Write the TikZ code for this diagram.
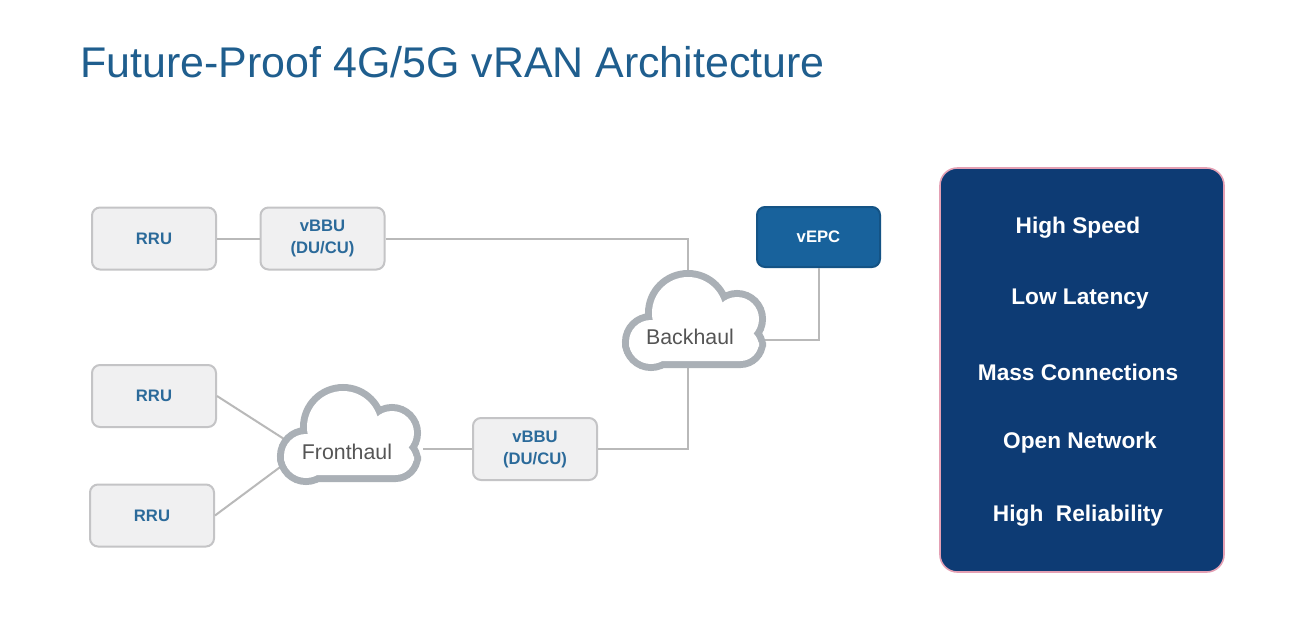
\documentclass[tikz,border=0pt]{standalone}
\usepackage{fontspec}
\setmainfont{Liberation Sans}
\usetikzlibrary{calc}
\definecolor{titleblue}{HTML}{1F5E8E}
\definecolor{labelblue}{HTML}{2B6A9A}
\definecolor{boxfill}{HTML}{F0F0F1}
\definecolor{boxline}{HTML}{C4C4C6}
\definecolor{linegray}{HTML}{B9B9B9}
\definecolor{epcblue}{HTML}{18629C}
\definecolor{navy}{HTML}{0D3B74}
\definecolor{pinkline}{HTML}{E4A0B4}
\definecolor{cloudgray}{HTML}{AAB0B6}
\definecolor{cloudtext}{HTML}{555555}
\tikzset{
  unitbox/.style={draw=boxline, line width=1.5pt, fill=boxfill, rounded corners=6pt,
    minimum width=93pt, minimum height=46.5pt, inner sep=0pt, align=center,
    font=\bfseries\fontsize{12.5}{16.5}\selectfont, text=labelblue},
  epcbox/.style={unitbox, draw=epcblue!85!black, fill=epcblue, text=white,
    minimum width=92.25pt, minimum height=45pt},
  link/.style={draw=linegray, line width=1.5pt},
  cloudframe/.style={minimum width=115.5pt, minimum height=73.5pt, inner sep=0pt},
  cloudlabel/.style={text=cloudtext, font=\fontsize{16}{18}\selectfont, inner sep=0pt},
  feature/.style={text=white, font=\bfseries\fontsize{17}{19}\selectfont, inner sep=0pt},
  panel/.style={draw=pinkline, line width=1.2pt, fill=navy, rounded corners=13pt,
    minimum width=213pt, minimum height=303pt, inner sep=0pt},
}
\newcommand\drawcloud[2]{%
  \begin{scope}[shift={(#1,#2)}]
    \path[draw=cloudgray, line width=10.5pt, fill=cloudgray]
      (-3,-7) circle (36) (46,-1) circle (22) (-40,22) circle (22);
    \path[draw=cloudgray, line width=10.5pt, fill=cloudgray, rounded corners=14pt]
      (-62,8) rectangle (68,41);
    \path[fill=white] (-3,-7) circle (36) (46,-1) circle (22) (-40,22) circle (22);
    \path[fill=white, rounded corners=14pt] (-62,8) rectangle (68,41);
  \end{scope}}
\begin{document}
\begin{tikzpicture}[x=0.75pt, y=-0.75pt]
  \useasboundingbox (0,0) rectangle (1304,636);
  \fill[white] (0,0) rectangle (1304,636);

  % title
  \node[anchor=base west, text=titleblue, font=\fontsize{32.2}{36}\selectfont, inner sep=0pt]
    (title) at (80,77) {Future-Proof 4G/5G vRAN Architecture};

  % invisible cloud frames (for connector anchors)
  \node[cloudframe] (backhaul) at (688,319) {};
  \node[cloudframe] (fronthaul) at (346,434) {};

  % boxes
  \node[unitbox] (rru1) at (154,238.5) {RRU};
  \node[unitbox] (vbbu1) at (322.5,238.5) {vBBU\\(DU/CU)};
  \node[epcbox] (vepc) at (818.5,237) {vEPC};
  \node[unitbox] (rru2) at (154,396) {RRU};
  \node[unitbox] (rru3) at (152,515.5) {RRU};
  \node[unitbox] (vbbu2) at (535,449) {vBBU\\(DU/CU)};

  % connectors
  \draw[link] (rru1.east) -- (rru1.east -| vbbu1.west);
  \draw[link] (vbbu1.east) -| (backhaul.north);
  \draw[link] (vepc.south) |- ($(backhaul.east)+(0,21)$);
  \draw[link] (backhaul.south) |- (vbbu2.east);
  \draw[link] (vbbu2.west) -- (vbbu2.west -| fronthaul.east);
  \draw[link] (rru2.east) -- ($(fronthaul.center)+(-51,12)$);
  \draw[link] (rru3.east) -- ($(fronthaul.center)+(-51,22)$);

  % clouds
  \drawcloud{691}{320}
  \drawcloud{346}{434}
  \node[cloudlabel] (backhaulText) at (690,337) {Backhaul};
  \node[cloudlabel] (fronthaulText) at (347,452) {Fronthaul};

  % right panel
  \node[panel] (features) at (1082,370) {};
  \node[feature] (f1) at (1078,228) {High Speed};
  \node[feature] (f2) at (1080,299) {Low Latency};
  \node[feature] (f3) at (1078,372) {Mass Connections};
  \node[feature] (f4) at (1080,443) {Open Network};
  \node[feature] (f5) at (1078,516) {High\ \ Reliability};
\end{tikzpicture}
\end{document}
